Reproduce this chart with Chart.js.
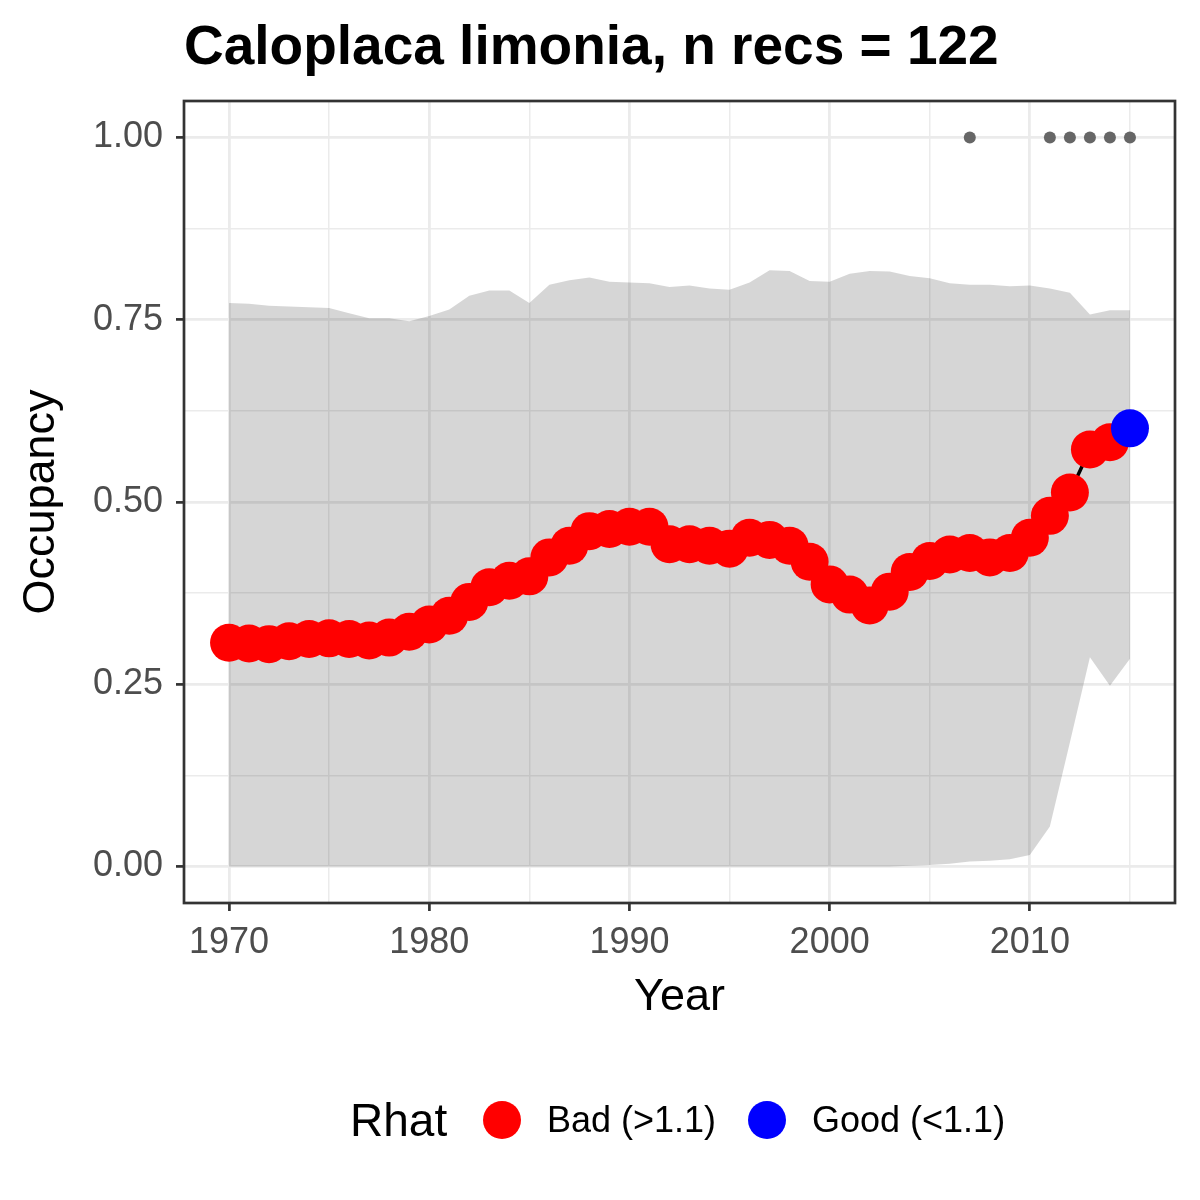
<!DOCTYPE html>
<html>
<head>
<meta charset="utf-8">
<title>Caloplaca limonia occupancy</title>
<script src="https://cdn.jsdelivr.net/npm/chart.js@4.4.1/dist/chart.umd.min.js"></script>
<style>
    body { margin: 0; background: #fff; }
    #wrap { position: relative; width: 1200px; height: 1200px; }
    canvas { display: block; }
    #legend { position: absolute; left: 0; top: 1090px; width: 1200px; height: 60px;
              font-family: "Liberation Sans", Arial, sans-serif; color: #000; }
    #legend span { position: absolute; top: 0; white-space: nowrap; line-height: 60px; }
    #legend .key { position: absolute; top: 11px; width: 38px; height: 38px; border-radius: 50%; }
</style>
</head>
<body>
<div id="wrap">
    <canvas id="occChart" width="1200" height="1200"></canvas>
    <div id="legend">
        <span style="left:350px;font-size:46px">Rhat</span>
        <div class="key" style="left:483px;background:#ff0000"></div>
        <span style="left:547px;font-size:36px">Bad (&gt;1.1)</span>
        <div class="key" style="left:748px;background:#0000ff"></div>
        <span style="left:812px;font-size:36px">Good (&lt;1.1)</span>
    </div>
</div>
<script>
// Data
const years = [1970, 1971, 1972, 1973, 1974, 1975, 1976, 1977, 1978, 1979,
               1980, 1981, 1982, 1983, 1984, 1985, 1986, 1987, 1988, 1989,
               1990, 1991, 1992, 1993, 1994, 1995, 1996, 1997, 1998, 1999,
               2000, 2001, 2002, 2003, 2004, 2005, 2006, 2007, 2008, 2009,
               2010, 2011, 2012, 2013, 2014, 2015];
const meanOcc = [0.307, 0.306, 0.305, 0.309, 0.312, 0.313, 0.312, 0.310, 0.314, 0.322,
                 0.332, 0.344, 0.363, 0.383, 0.392, 0.398, 0.424, 0.440, 0.460, 0.463,
                 0.466, 0.466, 0.442, 0.442, 0.440, 0.436, 0.451, 0.448, 0.440, 0.418,
                 0.387, 0.373, 0.358, 0.377, 0.404, 0.419, 0.428, 0.430, 0.424, 0.430,
                 0.451, 0.481, 0.513, 0.572, 0.582, 0.601];
const upperOcc = [0.773, 0.772, 0.769, 0.768, 0.767, 0.766, 0.759, 0.752, 0.752, 0.748,
                  0.755, 0.764, 0.783, 0.790, 0.790, 0.773, 0.798, 0.804, 0.808, 0.802,
                  0.801, 0.800, 0.795, 0.797, 0.793, 0.791, 0.801, 0.818, 0.817, 0.803,
                  0.802, 0.813, 0.817, 0.816, 0.810, 0.807, 0.800, 0.798, 0.798, 0.796,
                  0.797, 0.793, 0.787, 0.757, 0.763, 0.763];
const lowerOcc = [0, 0, 0, 0, 0, 0, 0, 0, 0, 0,
                  0, 0, 0, 0, 0, 0, 0, 0, 0, 0,
                  0, 0, 0, 0, 0, 0, 0, 0, 0, 0,
                  0, 0, 0, 0, 0.001, 0.002, 0.004, 0.007, 0.008, 0.010,
                  0.016, 0.055, 0.170, 0.287, 0.248, 0.285];
const rhat = ['Bad', 'Bad', 'Bad', 'Bad', 'Bad', 'Bad', 'Bad', 'Bad', 'Bad', 'Bad',
              'Bad', 'Bad', 'Bad', 'Bad', 'Bad', 'Bad', 'Bad', 'Bad', 'Bad', 'Bad',
              'Bad', 'Bad', 'Bad', 'Bad', 'Bad', 'Bad', 'Bad', 'Bad', 'Bad', 'Bad',
              'Bad', 'Bad', 'Bad', 'Bad', 'Bad', 'Bad', 'Bad', 'Bad', 'Bad', 'Bad',
              'Bad', 'Bad', 'Bad', 'Bad', 'Bad', 'Good'];
const recordYears = [2007, 2011, 2012, 2013, 2014, 2015];
const recordOcc = [1, 1, 1, 1, 1, 1];
const xTicks = [1970, 1975, 1980, 1985, 1990, 1995, 2000, 2005, 2010, 2015];
const yTicks = [0, 0.125, 0.25, 0.375, 0.5, 0.625, 0.75, 0.875, 1];

const rhatColours = { Bad: '#ff0000', Good: '#0000ff' };
const fontFamily = '"Liberation Sans", Arial, sans-serif';

function pts(xs, ys) {
    return xs.map((x, i) => ({ x: x, y: ys[i] }));
}
function isMajorY(v) {
    return Math.abs(v * 4 - Math.round(v * 4)) < 1e-6;
}

// ggplot style full panel border
const panelBorder = {
    id: 'panelBorder',
    afterDraw(chart) {
        const { ctx, chartArea: a } = chart;
        ctx.save();
        ctx.strokeStyle = '#333333';
        ctx.lineWidth = 2.7;
        ctx.strokeRect(a.left, a.top, a.right - a.left, a.bottom - a.top);
        ctx.restore();
    }
};

const ctx = document.getElementById('occChart').getContext('2d');
const occChart = new Chart(ctx, {
    type: 'line',
    data: {
        datasets: [{
            data: pts(years, upperOcc),
            borderWidth: 0,
            pointRadius: 0,
            fill: '+1',
            backgroundColor: 'rgba(0,0,0,0.16)',
            order: 3
        }, {
            data: pts(years, lowerOcc),
            borderWidth: 0,
            pointRadius: 0,
            fill: false,
            order: 4
        }, {
            data: pts(years, meanOcc),
            borderColor: '#000000',
            borderWidth: 3.5,
            pointRadius: 0,
            fill: false,
            order: 2
        }, {
            data: pts(years, meanOcc),
            showLine: false,
            pointRadius: 19,
            pointBorderWidth: 0,
            pointBackgroundColor: rhat.map(r => rhatColours[r]),
            order: 1
        }, {
            data: pts(recordYears, recordOcc),
            showLine: false,
            pointRadius: 6,
            pointBorderWidth: 0,
            pointBackgroundColor: '#666666',
            order: 0
        }]
    },
    options: {
        responsive: false,
        animation: false,
        events: [],
        layout: { padding: { left: 0, right: 25, top: 0, bottom: 160 } },
        plugins: {
            legend: { display: false },
            tooltip: { enabled: false },
            title: {
                display: true,
                text: 'Caloplaca limonia, n recs = 122',
                align: 'start',
                fullSize: false,
                color: '#000000',
                font: { family: fontFamily, size: 55, weight: 'bold' },
                padding: { top: 16, bottom: 19 }
            }
        },
        scales: {
            x: {
                type: 'linear',
                min: 1967.75,
                max: 2017.25,
                afterBuildTicks: s => { s.ticks = xTicks.map(v => ({ value: v })); },
                afterFit: s => { s.height = 137; },
                border: { display: false },
                grid: {
                    color: '#ebebeb',
                    lineWidth: c => (c.tick && c.tick.value % 10 === 0) ? 2.8 : 1.5,
                    tickLength: 8,
                    tickWidth: 2.7,
                    tickColor: c => (c.tick && c.tick.value % 10 === 0) ? '#333333' : 'rgba(0,0,0,0)'
                },
                ticks: {
                    autoSkip: false,
                    maxRotation: 0,
                    padding: 10,
                    color: '#4d4d4d',
                    font: { family: fontFamily, size: 36 },
                    callback: v => (v % 10 === 0 ? String(v) : '')
                },
                title: {
                    display: true,
                    text: 'Year',
                    color: '#000000',
                    font: { family: fontFamily, size: 45 },
                    padding: { top: 0, bottom: 15 }
                }
            },
            y: {
                type: 'linear',
                min: -0.05,
                max: 1.05,
                afterBuildTicks: s => { s.ticks = yTicks.map(v => ({ value: v })); },
                afterFit: s => { s.width = 184; },
                border: { display: false },
                grid: {
                    color: '#ebebeb',
                    lineWidth: c => (c.tick && isMajorY(c.tick.value)) ? 2.8 : 1.5,
                    tickLength: 8,
                    tickWidth: 2.7,
                    tickColor: c => (c.tick && isMajorY(c.tick.value)) ? '#333333' : 'rgba(0,0,0,0)'
                },
                ticks: {
                    autoSkip: false,
                    padding: 13,
                    color: '#4d4d4d',
                    font: { family: fontFamily, size: 36 },
                    callback: v => (isMajorY(v) ? v.toFixed(2) : '')
                },
                title: {
                    display: true,
                    text: 'Occupancy',
                    color: '#000000',
                    font: { family: fontFamily, size: 45 },
                    padding: { top: 15, bottom: 0 }
                }
            }
        }
    },
    plugins: [panelBorder]
});
</script>
</body>
</html>
